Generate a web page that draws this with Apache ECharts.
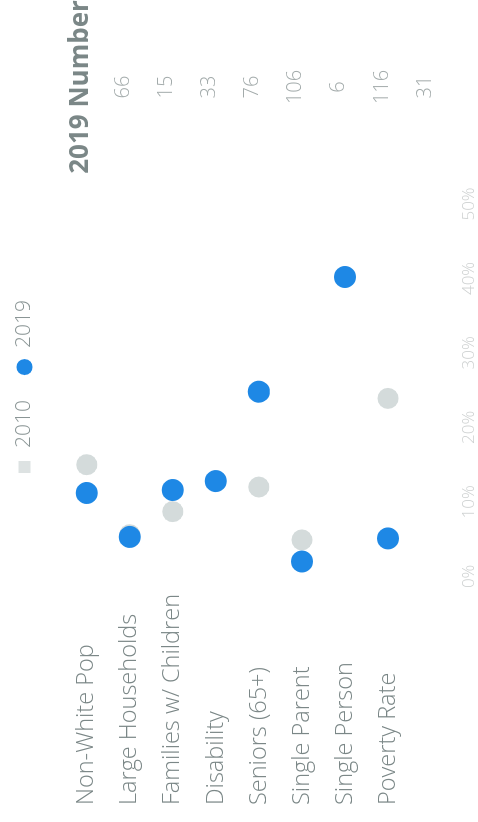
<!DOCTYPE html>
<html>
<head>
<meta charset="utf-8">
<script src="https://cdn.jsdelivr.net/npm/echarts@6/dist/echarts.min.js"></script>
<style>
  html, body { margin: 0; padding: 0; background: #fff; width: 478px; height: 822px; overflow: hidden; }
  #chart { position: absolute; left: 0; top: 0; width: 822px; height: 478px;
           transform-origin: 0 0; transform: translate(0, 822px) rotate(-90deg); }
</style>
</head>
<body>
<div id="chart"></div>
<script>
const categories = ['Non-White Pop', 'Large Households', 'Families w/ Children', 'Disability',
                    'Seniors (65+)', 'Single Parent', 'Single Person', 'Poverty Rate'];
const values2010 = [15.0, 5.6, 8.7, 12.8, 12.0, 4.9, 40.2, 23.9];
const values2019 = [11.2, 5.3, 11.6, 12.8, 24.8, 2.0, 40.2, 5.1];
const numberHeader = '2019 Number';
const numbers2019 = ['66', '15', '33', '76', '106', '6', '116', '31'];
const tickValues = [0, 10, 20, 30, 40, 50];

const labelColor = '#7b8787';
const chart = echarts.init(document.getElementById('chart'), null, { renderer: 'canvas' });
chart.setOption({
  backgroundColor: '#ffffff',
  textStyle: { fontFamily: 'Open Sans' },
  legend: {
    left: 340, top: 9,
    itemWidth: 16, itemHeight: 16, itemGap: 25,
    textStyle: { fontSize: 21, fontWeight: 300, color: '#8a9595', fontFamily: 'Open Sans', padding: [0, 0, 0, 6] },
    data: [
      { name: '2010', icon: 'rect', itemStyle: { color: '#dde2e2', borderColor: '#ffffff', borderWidth: 4 } },
      { name: '2019', icon: 'circle' }
    ]
  },
  grid: [
    { left: 245.6, width: 372.4, top: 65.2, height: 344.3, containLabel: false },
    { left: 735, width: 1, top: 59, height: 387.4, containLabel: false }
  ],
  xAxis: [
    {
      gridIndex: 0, type: 'value', min: tickValues[0], max: tickValues[tickValues.length - 1], interval: 10,
      axisLine: { show: false }, axisTick: { show: false }, splitLine: { show: false },
      axisLabel: { margin: 51, fontSize: 17, fontWeight: 300, color: '#cdd0d0', formatter: v => v + '%' }
    },
    { gridIndex: 1, type: 'value', show: false }
  ],
  yAxis: [
    {
      gridIndex: 0, type: 'category', data: categories, inverse: true,
      axisLine: { show: false }, axisTick: { show: false }, splitLine: { show: false },
      axisLabel: { align: 'left', margin: 228.6, fontSize: 23.5, fontWeight: 300, color: labelColor }
    },
    {
      gridIndex: 1, type: 'category', data: [numberHeader].concat(numbers2019), inverse: true,
      axisLine: { show: false }, axisTick: { show: false }, splitLine: { show: false },
      axisLabel: {
        align: 'center', margin: 0, fontSize: 20, fontWeight: 300, color: '#a3abab',
        formatter: (v, i) => i === 0 ? '{h|' + v + '}' : v,
        rich: { h: { fontSize: 26, fontWeight: 'bold', color: labelColor, fontFamily: 'Open Sans' } }
      }
    }
  ],
  series: [
    {
      name: '2010', type: 'scatter', xAxisIndex: 0, yAxisIndex: 0,
      symbol: 'circle', symbolSize: 21,
      itemStyle: { color: '#d4dbdb', opacity: 1 },
      data: values2010.map((v, i) => [v, categories[i]]),
      z: 2
    },
    {
      name: '2019', type: 'scatter', xAxisIndex: 0, yAxisIndex: 0,
      symbol: 'circle', symbolSize: 22,
      itemStyle: { color: '#1e88e5', opacity: 1 },
      data: values2019.map((v, i) => [v, categories[i]]),
      z: 3
    }
  ]
});
</script>
</body>
</html>
